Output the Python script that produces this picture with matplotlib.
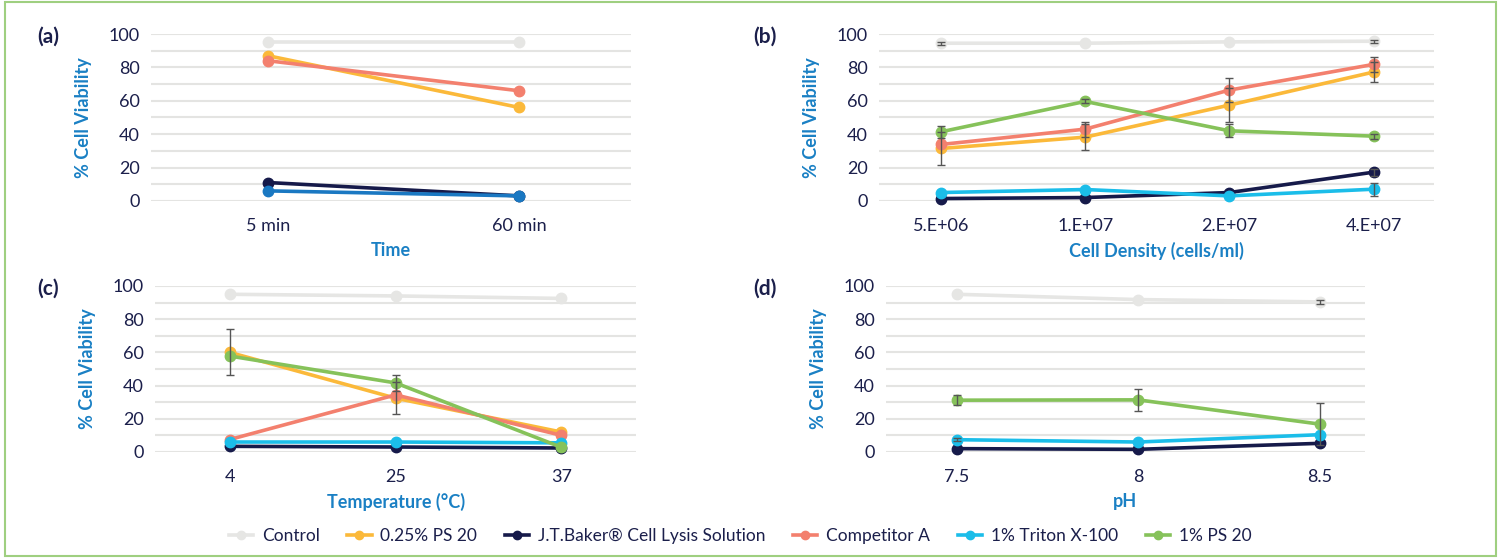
import matplotlib

matplotlib.use("Agg")
import matplotlib.pyplot as plt
from matplotlib.lines import Line2D
from matplotlib.patches import Rectangle

plt.rcParams["font.family"] = ["Lato", "DejaVu Sans"]

NAVY = "#1b1f4b"
BLUE = "#1a80c4"
GRID = "#e4e4e2"

series_names = ["Control", "0.25% PS 20", "J.T.Baker® Cell Lysis Solution",
                "Competitor A", "1% Triton X-100", "1% PS 20"]
series_colors = ["#e6e6e4", "#fbb93a", "#161a4a", "#f3806e", "#1bbde9", "#86c25a"]

# (a) time
time_cats = ["5 min", "60 min"]
time_vals = {
    "Control": [95, 95],
    "0.25% PS 20": [87, 56],
    "Competitor A": [84, 66],
    "J.T.Baker® Cell Lysis Solution": [11, 3],
    "1% Triton X-100": [6, 3],
}
time_err = {}

# (b) cell density
dens_cats = ["5.E+06", "1.E+07", "2.E+07", "4.E+07"]
dens_vals = {
    "Control": [94.5, 94.5, 95.3, 95.7],
    "1% PS 20": [41.4, 59.6, 42.0, 38.8],
    "Competitor A": [33.8, 43.0, 66.4, 81.8],
    "0.25% PS 20": [31.4, 38.2, 57.4, 77.2],
    "1% Triton X-100": [5.0, 6.8, 3.0, 7.0],
    "J.T.Baker® Cell Lysis Solution": [1.4, 2.0, 5.0, 17.2],
}
dens_err = {
    "Control": [1, 0, 0, 1],
    "1% PS 20": [3.6, 1.2, 4.0, 1.5],
    "Competitor A": [0, 4.5, 7.0, 4.6],
    "0.25% PS 20": [10, 8, 10, 6],
    "1% Triton X-100": [0, 0, 0, 4],
    "J.T.Baker® Cell Lysis Solution": [0, 0, 0, 2],
}

# (c) temperature
temp_cats = ["4", "25", "37"]
temp_vals = {
    "Control": [95, 94, 92.5],
    "0.25% PS 20": [60, 32.4, 12.0],
    "1% PS 20": [57.8, 41.6, 2.8],
    "Competitor A": [7.5, 34.4, 10.0],
    "1% Triton X-100": [6.0, 6.0, 5.5],
    "J.T.Baker® Cell Lysis Solution": [3.4, 3.0, 2.4],
}
temp_err = {
    "0.25% PS 20": [13.8, 9.8, 0],
    "1% PS 20": [0, 4.6, 0],
}

# (d) pH
ph_cats = ["7.5", "8", "8.5"]
ph_vals = {
    "Control": [95, 91.8, 90.4],
    "1% PS 20": [31.2, 31.4, 16.8],
    "1% Triton X-100": [7.4, 6.0, 10.4],
    "J.T.Baker® Cell Lysis Solution": [2.0, 1.6, 5.2],
}
ph_err = {
    "Control": [0, 0, 1],
    "1% PS 20": [3, 6.7, 12.6],
    "1% Triton X-100": [1, 0, 0],
}

color_of = dict(zip(series_names, series_colors))

fig = plt.figure(figsize=(15.01, 5.58), dpi=100)

panels = [
    ("(a)", [0.1006, 0.640, 0.3198, 0.299], (-0.466, 1.446), time_cats, time_vals, time_err,
     "Time", {"1% Triton X-100": "#1a78c2"}),
    ("(b)", [0.5856, 0.640, 0.3698, 0.299], (-0.43, 3.42), dens_cats, dens_vals, dens_err,
     "Cell Density (cells/ml)", {}),
    ("(c)", [0.1033, 0.190, 0.3205, 0.2975], (-0.45, 2.45), temp_cats, temp_vals, temp_err,
     "Temperature (°C)", {}),
    ("(d)", [0.5903, 0.190, 0.3190, 0.2975], (-0.39, 2.25), ph_cats, ph_vals, ph_err,
     "pH", {}),
]

for tag, rect, xlim, cats, vals, errs, xlabel, overrides in panels:
    ax = fig.add_axes(rect)
    x = list(range(len(cats)))
    for name in series_names:
        if name not in vals:
            continue
        c = overrides.get(name, color_of[name])
        ax.plot(x, vals[name], "-o", color=c, lw=2.6, ms=7.5, zorder=3, clip_on=False)
    for name, e in errs.items():
        # skip zero-length bars so no stray caps are drawn
        idx = [i for i, v in enumerate(e) if v > 0]
        ax.errorbar([x[i] for i in idx], [vals[name][i] for i in idx],
                    yerr=[e[i] for i in idx], fmt="none", ecolor="#555555",
                    elinewidth=1, capsize=3, capthick=1, zorder=4)
    ax.set_xlim(*xlim)
    ax.set_ylim(0, 100)
    ax.set_yticks(range(0, 101, 20))
    ax.set_yticks(range(10, 100, 20), minor=True)
    ax.set_xticks(x)
    ax.set_xticklabels(cats)
    ax.grid(True, axis="y", which="both", color=GRID, lw=1.5, zorder=0)
    ax.set_axisbelow(True)
    for s in ax.spines.values():
        s.set_visible(False)
    ax.tick_params(axis="both", which="both", length=0, labelsize=13, colors=NAVY)
    ax.tick_params(axis="y", pad=8)
    ax.tick_params(axis="x", pad=12)
    ax.set_ylabel("% Cell Viability", color=BLUE, fontsize=13, fontweight="bold", labelpad=12)
    ax.set_xlabel(xlabel, color=BLUE, fontsize=13, fontweight="bold", labelpad=6)
    lx = 0.025 if tag in ("(a)", "(c)") else 0.502
    ly = rect[1] + rect[3] - 0.005
    fig.text(lx, ly, tag, color=NAVY, fontsize=15, fontweight="bold", va="center")

handles = [Line2D([0], [0], color=c, lw=2.6, marker="o", ms=6) for c in series_colors]
fig.legend(handles, series_names, loc="center", bbox_to_anchor=(0.493, 0.04), ncol=6,
           frameon=False, fontsize=12.5, handlelength=1.4, handletextpad=0.5,
           columnspacing=1.6, labelcolor=NAVY)

fig.patches.append(Rectangle((0.003, 0.004), 0.994, 0.993, transform=fig.transFigure,
                             fill=False, edgecolor="#9fcf80", lw=1.5))

fig.savefig("out.png", dpi=100)
